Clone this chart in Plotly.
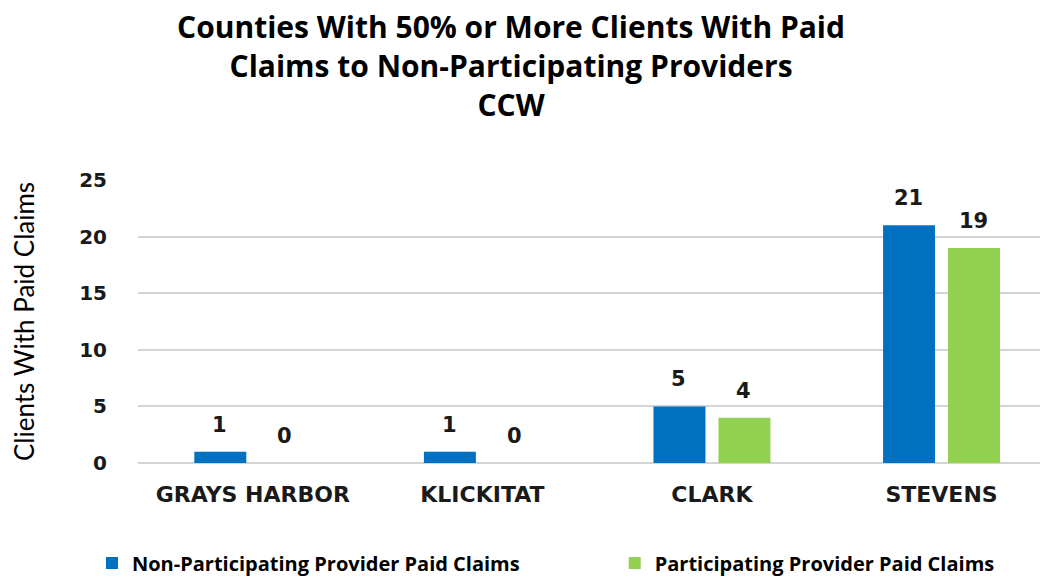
import plotly.graph_objects as go

counties = ["GRAYS HARBOR", "KLICKITAT", "CLARK", "STEVENS"]
non_participating = [1, 1, 5, 21]
participating = [0, 0, 4, 19]
series_names = ["Non-Participating Provider Paid Claims", "Participating Provider Paid Claims"]
y_ticks = [0, 5, 10, 15, 20, 25]

BLUE = "#0070C0"
GREEN = "#92D050"

fig = go.Figure()
fig.add_trace(go.Bar(x=counties, y=non_participating, name=series_names[0], legend="legend",
                     showlegend=True, marker=dict(color=BLUE, line=dict(width=0))))
fig.add_trace(go.Bar(x=counties, y=participating, name=series_names[1], legend="legend2",
                     showlegend=True, marker=dict(color=GREEN, line=dict(width=0))))

annotations = []
for i, c in enumerate(counties):
    for vals, shift in ((non_participating, -33), (participating, 32)):
        annotations.append(dict(x=c, y=vals[i], xref="x", yref="y", text=str(vals[i]),
                                showarrow=False, xshift=shift, yshift=13, yanchor="bottom",
                                font=dict(family="DejaVu Sans", size=21, color="#1a1a1a", weight="bold")))

legend_font = dict(family="Open Sans", size=20, color="black", weight="bold")

fig.update_layout(
    width=1048, height=579,
    showlegend=True,
    paper_bgcolor="white", plot_bgcolor="white",
    margin=dict(l=130, r=10, t=172, b=124, autoexpand=False),
    barmode="group", bargap=0.434, bargroupgap=0.2,
    title=dict(text="Counties With 50% or More Clients With Paid<br>Claims to Non-Participating Providers<br>CCW",
               x=0.48, xanchor="center", yref="container", y=0.948, yanchor="middle",
               font=dict(family="Open Sans", size=30, color="black", weight="bold")),
    xaxis=dict(range=[-0.5, 3.455], showgrid=False, showline=False, ticks="",
               tickfont=dict(family="DejaVu Sans", size=22, color="#1a1a1a", weight="bold"),
               ticklabelstandoff=16),
    yaxis=dict(range=[0, 25], tickvals=y_ticks, showgrid=True, gridcolor="#d4d4d4", gridwidth=2,
               zeroline=True, zerolinecolor="#d4d4d4", zerolinewidth=2,
               tickfont=dict(family="DejaVu Sans", size=20, color="#1a1a1a", weight="bold"),
               ticklabelstandoff=30,
               title=dict(text="Clients With Paid Claims", standoff=44,
                          font=dict(family="Lato", size=26, color="black"))),
    legend=dict(orientation="h", x=-0.0507, xanchor="left", y=-0.353, yanchor="middle",
                font=legend_font, itemwidth=30, bgcolor="rgba(0,0,0,0)"),
    legend2=dict(orientation="h", x=0.525, xanchor="left", y=-0.353, yanchor="middle",
                 font=legend_font, itemwidth=30, bgcolor="rgba(0,0,0,0)"),
    annotations=annotations,
)

fig.write_html("out.html")
